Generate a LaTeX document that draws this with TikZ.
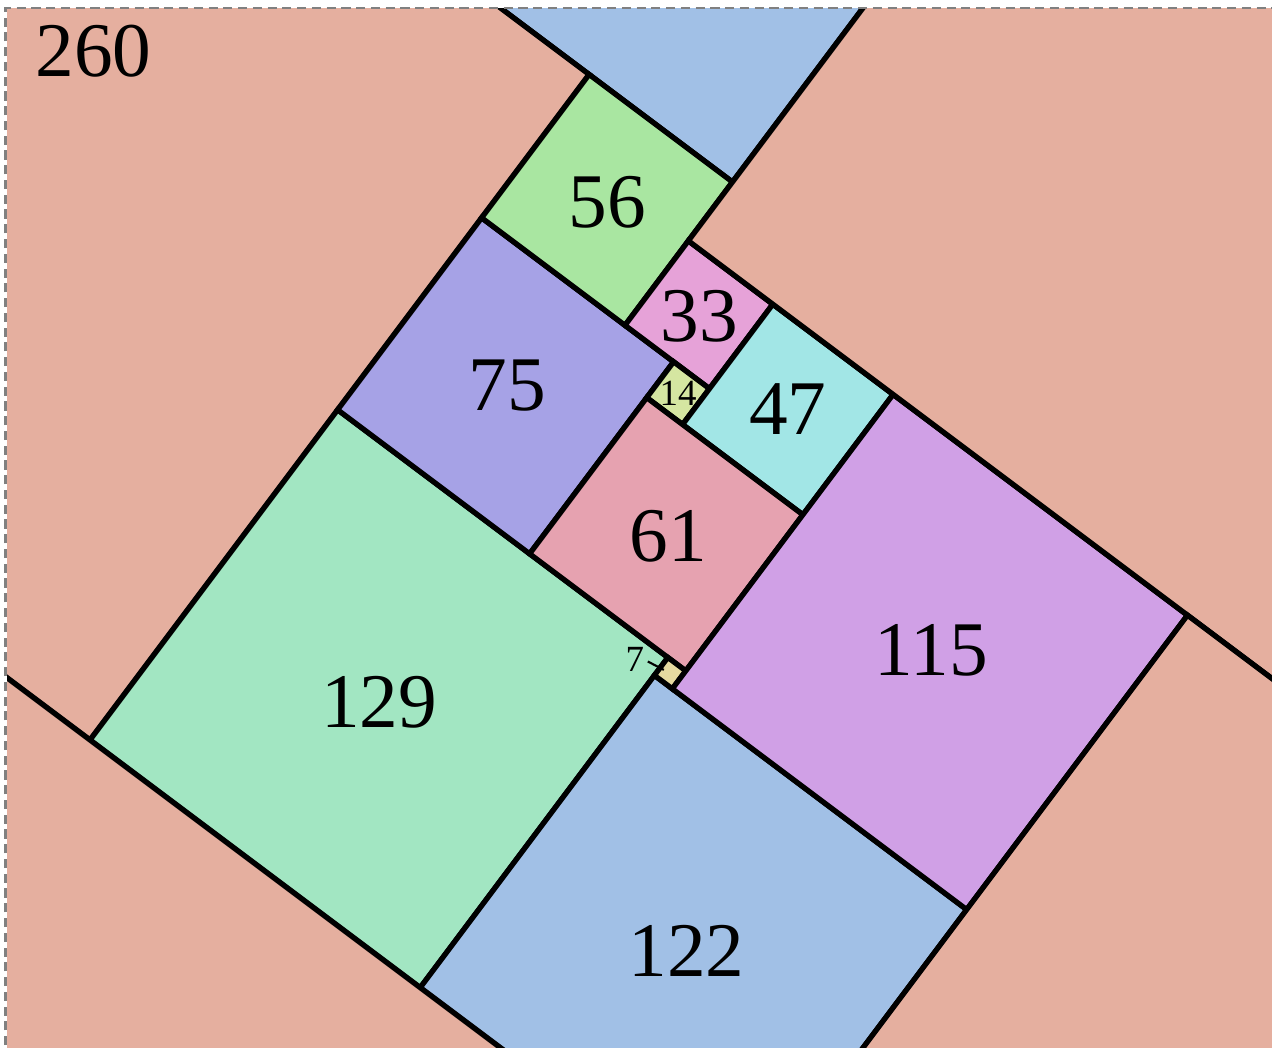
\documentclass[tikz,border=0pt]{standalone}
\usepackage{fontspec}
\setmainfont{Liberation Serif}
\usepackage{tikz}
\usetikzlibrary{positioning}
\usepackage{xcolor}
\definecolor{sqsalmon}{RGB}{229,175,159}
\definecolor{sqblue}{RGB}{161,192,230}
\definecolor{sqgreen}{RGB}{169,230,161}
\definecolor{sqviolet}{RGB}{166,162,230}
\definecolor{sqpink}{RGB}{230,162,216}
\definecolor{sqlime}{RGB}{213,230,161}
\definecolor{sqcyan}{RGB}{162,230,230}
\definecolor{sqrose}{RGB}{230,162,176}
\definecolor{sqlilac}{RGB}{208,160,230}
\definecolor{sqmint}{RGB}{162,230,194}
\definecolor{sqsand}{RGB}{230,218,160}
\tikzstyle{tile} = [draw=black, line width=1.5pt]
\tikzstyle{num} = [font=\fontsize{22}{24}\selectfont, inner sep=0pt]
\tikzstyle{smallnum} = [font=\fontsize{10.5}{12}\selectfont, inner sep=0pt]
\tikzstyle{leader} = [line width=0.6pt, shorten >=2pt, shorten <=1pt]
\tikzstyle{frame} = [draw=gray, line width=0.6pt, dash pattern=on 2.6pt off 1.6pt]

\begin{document}
\begin{tikzpicture}
\useasboundingbox (0,0) rectangle (12.72,-10.48);
\begin{scope}
\clip (0.07,-0.09) rectangle (12.9,-10.6);
\begin{scope}[shift={(0.90,-7.40)}, rotate=-36.8699, x=0.032cm, y=0.032cm]
% one period of the tiling, repeated along the lattice
\foreach \m in {-2,...,2}{
  \foreach \n in {-2,...,2}{
    \begin{scope}[shift={({(\m)*316+(\n)*195},{(\m)*237-(\n)*260})}]
      \foreach \X/\Y/\S/\C in {-260/0/260/sqsalmon, 0/0/129/sqmint, 129/0/122/sqblue,
          0/129/75/sqviolet, 0/204/56/sqgreen, 56/204/33/sqpink, 75/190/14/sqlime,
          89/190/47/sqcyan, 75/129/61/sqrose, 129/122/7/sqsand, 136/122/115/sqlilac}{
        \filldraw[tile, fill=\C] (\X,\Y) rectangle ++(\S,\S);
      }
    \end{scope}
  }
}

% Labels
\node[num] (l129) at (65.2,63.6) {129};
\node[num] (l122) at (188.6,59.2) {122};
\node[num] (l115) at (193.5,180.3) {115};
\node[num] (l75) at (37.8,167) {75};
\node[num] (l61) at (106.3,159.4) {61};
\node[num] (l56) at (28.5,231.4) {56};
\node[num] (l47) at (112.5,213.5) {47};
\node[num] (l33) at (72.8,220.3) {33};
\node[smallnum] (l14) at (82,197) {14};
\node[smallnum] (l7) at (121.2,122.2) {7};
\coordinate (c7) at (132.5,125.5);
\draw[leader] (l7.east) -- (c7);
\end{scope}
\end{scope}
\node[num] (l260) at (0.935,-0.515) {260};

% Frame
\draw[frame] (0.055,-10.6) -- (0.055,-0.083) -- (12.9,-0.083);
\end{tikzpicture}
\end{document}
